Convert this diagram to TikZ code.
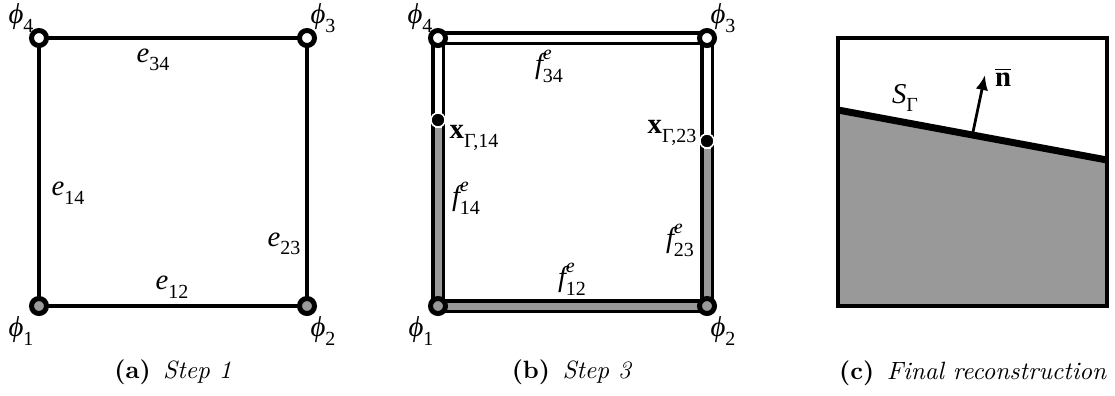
\documentclass[tikz,border=0pt]{standalone}
\usepackage{fontspec}
\newfontfamily\tms{Liberation Serif}
\usetikzlibrary{arrows.meta}
\definecolor{fillgray}{HTML}{999999}
\newcommand\lsb[2]{{\itshape #1}\raisebox{-0.3em}{\fontsize{8}{8}\selectfont #2}}
\newcommand\lsbsp[3]{{\itshape #1}\rlap{\raisebox{0.5em}{\fontsize{8}{8}\selectfont\itshape #2}}\raisebox{-0.3em}{\fontsize{8}{8}\selectfont #3}}
\newcommand\xg[1]{{\bfseries x}\raisebox{-0.3em}{\fontsize{8}{8}\selectfont Γ,#1}}
\begin{document}
\begin{tikzpicture}[x=0.4pt,y=-0.4pt,
  vtx/.style={circle,draw=black,line width=2pt,minimum size=6pt,inner sep=0pt},
  lbl/.style={inner sep=0pt,font=\tms\fontsize{11.5}{13}\selectfont},
  captxt/.style={inner sep=0pt,font=\fontsize{10}{12}\selectfont},
  sqedge/.style={line width=1.6pt},
  bandout/.style={line width=5.6pt,black},
  bandwhite/.style={line width=2.8pt,white},
  bandgray/.style={line width=2.8pt,fillgray},
  ipt/.style={circle,fill=black,draw=white,line width=0.6pt,minimum size=5.6pt,inner sep=0pt}]
\useasboundingbox (0,0) rectangle (1115,395);
% ---------- (a)
\coordinate (pa1) at (39,306);
\coordinate (pa2) at (307,306);
\coordinate (pa3) at (307,38);
\coordinate (pa4) at (39,38);
\draw[sqedge] (pa1) -- (pa2) -- (pa3) -- (pa4) -- cycle;
\node[vtx,fill=fillgray] (a1) at (pa1) {};
\node[vtx,fill=fillgray] (a2) at (pa2) {};
\node[vtx,fill=white] (a3) at (pa3) {};
\node[vtx,fill=white] (a4) at (pa4) {};
\node[lbl] (la4) at (21,18) {\lsb{ϕ}{4}};
\node[lbl] (la3) at (323,18) {\lsb{ϕ}{3}};
\node[lbl] (la1) at (21,331) {\lsb{ϕ}{1}};
\node[lbl] (la2) at (323,331) {\lsb{ϕ}{2}};
\node[lbl] (le34) at (153,60) {\lsb{e}{34}};
\node[lbl] (le14) at (68,193) {\lsb{e}{14}};
\node[lbl] (le23) at (284,244) {\lsb{e}{23}};
\node[lbl] (le12) at (172,287) {\lsb{e}{12}};
\node[captxt] (capa) at (173,372) {\textbf{(a)}\enspace\textit{Step 1}};
% ---------- (b)
\coordinate (pb1) at (438,306);
\coordinate (pb2) at (707,306);
\coordinate (pb3) at (707,38);
\coordinate (pb4) at (438,38);
\draw[bandout] (pb1) -- (pb2) -- (pb3) -- (pb4) -- cycle;
\draw[bandwhite] (pb1) -- (pb2) -- (pb3) -- (pb4) -- cycle;
\node[ipt] (x14) at (438,120) {};
\node[ipt] (x23) at (707,141) {};
\draw[bandgray] (pb1) -- (pb2);
\draw[bandgray] (pb2) -- (x23);
\draw[bandgray] (pb1) -- (x14);
\node[ipt] at (x14) {};
\node[ipt] at (x23) {};
\node[vtx,fill=fillgray] (b1) at (pb1) {};
\node[vtx,fill=fillgray] (b2) at (pb2) {};
\node[vtx,fill=white] (b3) at (pb3) {};
\node[vtx,fill=white] (b4) at (pb4) {};
\node[lbl] (lb4) at (420,18) {\lsb{ϕ}{4}};
\node[lbl] (lb3) at (723,18) {\lsb{ϕ}{3}};
\node[lbl] (lb1) at (421,331) {\lsb{ϕ}{1}};
\node[lbl] (lb2) at (723,331) {\lsb{ϕ}{2}};
\node[lbl] (lf34) at (549,66) {\lsbsp{f}{e}{34}};
\node[lbl] (lf14) at (466,198) {\lsbsp{f}{e}{14}};
\node[lbl] (lf23) at (680,240) {\lsbsp{f}{e}{23}};
\node[lbl] (lf12) at (572,279) {\lsbsp{f}{e}{12}};
\node[lbl] (lx14) at (474,138) {\xg{14}};
\node[lbl] (lx23) at (672,133) {\xg{23}};
\node[captxt] (capb) at (572,372) {\textbf{(b)}\enspace\textit{Step 3}};
% ---------- (c)
\coordinate (cbl) at (838,306);
\coordinate (ctr) at (1107,38);
\coordinate (sl) at (838,110);
\coordinate (sr) at (1107,160);
\fill[fillgray] (sl) -- (sr) -- (1107,306) -- (cbl) -- cycle;
\draw[line width=2.8pt] (sl) -- (sr);
\draw[sqedge] (cbl) rectangle (ctr);
\coordinate (nb) at (973,132);
\coordinate (nt) at (985,75);
\draw[line width=1.1pt,-{Latex[length=6pt,width=5pt]}] (nb) -- (nt);
\node[lbl] (ln) at (1003,77) {$\overline{\hbox{\tms\fontsize{11.5}{13}\selectfont\bfseries n}}$};
\node[lbl] (ls) at (905,98) {\lsb{S}{Γ}};
\node[captxt] (capc) at (973,373) {\textbf{(c)}\enspace\textit{Final reconstruction}};
\end{tikzpicture}
\end{document}
